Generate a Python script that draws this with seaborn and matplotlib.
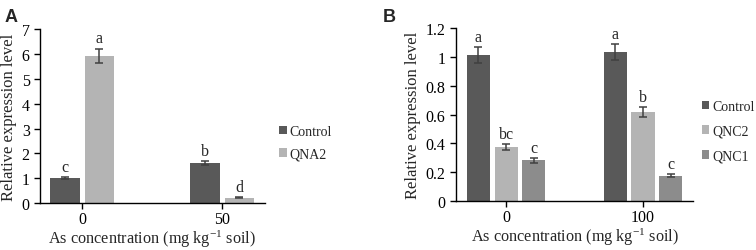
import numpy as np
import pandas as pd
import matplotlib
matplotlib.use('Agg')
import matplotlib.pyplot as plt
from matplotlib.ticker import FuncFormatter, FixedLocator
import seaborn as sns

# Panel A data
a_conc = ['0', '50']
a_groups = ['Control', 'QNA2']
a_control = [1.0, 1.6]
a_qna2 = [5.92, 0.22]
a_control_err = [0.05, 0.08]
a_qna2_err = [0.3, 0.025]
a_control_letters = ['c', 'b']
a_qna2_letters = ['a', 'd']

# Panel B data
b_conc = ['0', '100']
b_groups = ['Control', 'QNC2', 'QNC1']
b_control = [1.015, 1.033]
b_qnc2 = [0.375, 0.62]
b_qnc1 = [0.283, 0.175]
b_control_err = [0.054, 0.054]
b_qnc2_err = [0.023, 0.035]
b_qnc1_err = [0.016, 0.01]
b_control_letters = ['a', 'a']
b_qnc2_letters = ['bc', 'b']
b_qnc1_letters = ['c', 'c']

colors = {'Control': '#595959', 'QNA2': '#b4b4b4', 'QNC2': '#b4b4b4', 'QNC1': '#8c8c8c'}

sns.set_style('ticks')
plt.rcParams['font.family'] = ['Liberation Serif', 'DejaVu Serif']
plt.rcParams['mathtext.fontset'] = 'custom'
plt.rcParams['mathtext.rm'] = 'Liberation Serif'
plt.rcParams['mathtext.it'] = 'Liberation Serif:italic'


def make_df(conc, groups, values):
    rows = []
    for g, vals in zip(groups, values):
        for c, v in zip(conc, vals):
            rows.append({'conc': c, 'group': g, 'value': v})
    return pd.DataFrame(rows)


def draw_panel(ax, conc, groups, values, errs, letters, width, gap, ymax, ystep,
               legend_anchor, legend_spacing):
    df = make_df(conc, groups, values)
    sns.barplot(data=df, x='conc', y='value', hue='group', order=conc, hue_order=groups,
                palette=colors, width=width, gap=gap, errorbar=None, linewidth=0,
                saturation=1, ax=ax)
    for cont, err, lets in zip(ax.containers, errs, letters):
        xs = [p.get_x() + p.get_width() / 2 for p in cont]
        hs = [p.get_height() for p in cont]
        ax.errorbar(xs, hs, yerr=err, fmt='none', ecolor='#404040', elinewidth=1.1,
                    capsize=3.2, capthick=1.1)
        for x, h, e, t in zip(xs, hs, err, lets):
            ax.annotate(t, (x, h + e), xytext=(0, 1.5), textcoords='offset points',
                        ha='center', va='bottom', fontsize=11.5)
    ax.set_ylim(0, ymax)
    ax.set_yticks(np.arange(0, ymax + ystep / 2, ystep))
    ax.yaxis.set_major_formatter(FuncFormatter(lambda v, p: '{:g}'.format(round(v, 2))))
    ax.xaxis.set_minor_locator(FixedLocator([1.5]))
    ax.tick_params(axis='both', which='major', labelsize=11.5, length=4, width=1,
                   colors='black', direction='out')
    ax.tick_params(axis='x', which='major', pad=2)
    ax.tick_params(axis='x', which='minor', length=4, width=1)
    ax.set_xlabel('As concentration (mg kg$^{\\mathrm{-1}}$ soil)', fontsize=11.7, labelpad=0)
    ax.set_ylabel('Relative expression level', fontsize=12, labelpad=3)
    sns.despine(ax=ax)
    for s in ['left', 'bottom']:
        ax.spines[s].set_color('black')
        ax.spines[s].set_linewidth(1)
    handles, labels = ax.get_legend_handles_labels()
    ax.legend(handles, labels, loc='center left', bbox_to_anchor=legend_anchor,
              frameon=False, fontsize=10, handlelength=0.55, handleheight=0.55,
              handletextpad=0.2, labelspacing=legend_spacing, borderaxespad=0,
              borderpad=0)


fig = plt.figure(figsize=(7.56, 2.51), dpi=100)
ax_a = fig.add_axes([0.053, 0.187, 0.297, 0.693])
ax_b = fig.add_axes([0.603, 0.195, 0.314, 0.689])

draw_panel(ax_a, a_conc, a_groups, [a_control, a_qna2], [a_control_err, a_qna2_err],
           [a_control_letters, a_qna2_letters], width=0.49, gap=0.13, ymax=7, ystep=1,
           legend_anchor=(1.065, 0.348), legend_spacing=0.7)
draw_panel(ax_b, b_conc, b_groups, [b_control, b_qnc2, b_qnc1],
           [b_control_err, b_qnc2_err, b_qnc1_err],
           [b_control_letters, b_qnc2_letters, b_qnc1_letters], width=0.61, gap=0.17,
           ymax=1.2, ystep=0.2, legend_anchor=(1.035, 0.405), legend_spacing=0.85)

fig.text(0.006, 0.965, 'A', fontsize=13, fontweight='bold', family='Liberation Sans', va='top')
fig.text(0.506, 0.965, 'B', fontsize=13, fontweight='bold', family='Liberation Sans', va='top')

fig.savefig('out.png', dpi=100)
